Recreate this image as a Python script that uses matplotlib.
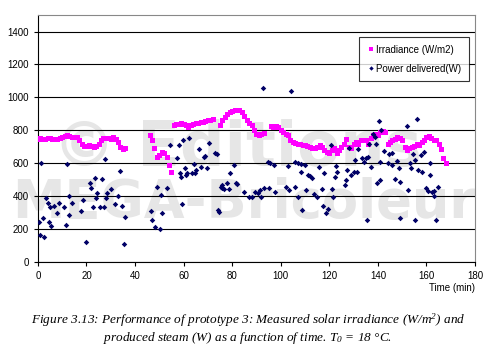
import matplotlib
matplotlib.use('Agg')
import matplotlib.pyplot as plt

plt.rcParams['font.family'] = ['Liberation Sans', 'DejaVu Sans']
plt.rcParams['mathtext.fontset'] = 'custom'
plt.rcParams['mathtext.rm'] = 'Liberation Serif:italic'
plt.rcParams['mathtext.it'] = 'Liberation Serif:italic'

# irradiance (W/m2) - magenta squares
t_irr = [0, 1, 2, 3, 4, 5, 6, 7, 8, 9, 10, 11, 12, 13, 14, 15, 16, 17, 18, 19,
         20, 21, 22, 23, 24, 25, 26, 27, 28, 29, 30, 31, 32, 33, 34, 35, 36,
         46, 47, 48, 49, 50, 51, 52, 53, 54, 55,
         56, 57, 58, 59, 60, 61, 62, 63, 64, 65, 66, 67, 68, 69, 70, 71, 72,
         75, 76, 77, 78, 79, 80, 81, 82, 83, 84, 85, 86, 87, 88, 89, 90, 91, 92, 93,
         96, 97, 98, 99, 100, 101, 102, 103, 104, 105, 106, 107, 108, 109, 110,
         111, 112, 113, 114, 115, 116, 117, 118, 119, 120, 121, 122, 123, 124, 125,
         126, 127, 128, 129, 130, 131, 132, 133, 134, 135, 136, 137, 138, 139, 140,
         141, 142, 143, 144, 145, 146, 147, 148, 149, 150, 151, 152, 153, 154, 155,
         156, 157, 158, 159, 160, 161, 162, 163, 164, 165, 166, 167, 168]
irradiance = [750, 752, 748, 750, 752, 754, 748, 745, 746, 755, 760, 765, 770, 765, 760, 760, 758, 740, 720, 704,
              706, 710, 705, 700, 705, 720, 740, 754, 754, 752, 750, 760, 745, 730, 700, 686, 690,
              770, 740, 690, 640, 650, 666, 660, 640, 590, 545,
              832, 836, 840, 842, 838, 830, 822, 830, 838, 842, 846, 850, 852, 856, 860, 864, 866,
              830, 860, 880, 900, 910, 918, 924, 924, 922, 910, 890, 860, 845, 830, 800, 780, 770, 780, 784,
              824, 820, 824, 820, 800, 790, 780, 770, 740, 730, 724, 720, 716, 712, 710,
              705, 700, 690, 690, 700, 710, 700, 680, 670, 660, 680, 690, 660, 680, 700,
              720, 750, 700, 690, 720, 730, 720, 740, 744, 740, 720, 756, 770, 780, 770,
              790, 796, 790, 720, 730, 744, 750, 760, 756, 740, 700, 680, 690, 700, 704,
              720, 710, 730, 744, 760, 764, 756, 744, 740, 720, 684, 630, 604]

# power delivered (W) - navy diamonds
t_pow = [0.4, 1, 1.4, 2, 2.7, 3.4, 4.1, 4.5, 5.1, 5.5, 6.5, 7.8, 8.7, 10.6, 11.4, 12.1, 12.6, 13, 14.1,
         17.9, 18.5, 19.6, 21.3, 22, 22.7, 23.6, 24, 24.5, 25.4, 26.4, 27.1, 27.6, 27.9, 28.4, 30,
         31.6, 33, 33.9, 34.6, 35.3, 35.7,
         46.7, 47.1, 48.4, 49.1, 50.1, 50.6, 51.2, 53.3, 54.3, 57.4, 58, 58.5, 58.8, 59.3, 59.8,
         60.4, 60.9, 61.4, 62.2, 63.6, 64.1, 64.7, 65.2, 66.3, 67.3, 68.3, 69, 69.5, 70.5, 73.1,
         73.9, 74.2, 74.5, 75.3, 75.6, 75.8, 76.5, 77.9, 78.7, 79, 80.8, 81.5, 82, 84.9, 86.8,
         88, 89.3, 90.7, 91.3, 92, 92.7, 93.3, 94.7, 95.6, 95.3, 97.3, 97.7, 102.3, 103.1, 103.3,
         104.3, 105.7, 105.7, 107, 107.3, 108.3, 108.4, 108.7, 110, 110.4, 111.3, 112, 112.7,
         113.6, 115, 115.6, 117, 117.3, 118, 118.7, 119.3, 120.7, 121, 121.7, 122.3, 122.7,
         123.1, 126.3, 126.7, 127.3, 128, 129, 130, 130.7, 131.3, 132, 133.3, 134.4, 135.3,
         135.6, 136, 136.4, 137.3, 138, 138.7, 139.3, 139.7, 140.4, 140.7, 140.9, 141.3, 142.7,
         144, 144.7, 145.6, 145.6, 147, 148, 148.7, 149.3, 149.3, 152, 152.4, 153.1, 153.7,
         154.4, 155.3, 155.3, 156, 156.7, 157.6, 158, 158.9, 160, 160.7, 161.3, 161.6, 162.3,
         163, 163.3, 164, 164.7]
power = [241, 167, 603, 267, 153, 388, 358, 241, 334, 217, 338, 297, 358, 334, 227, 595, 287, 402, 358,
         308, 378, 123, 482, 452, 334, 513, 392, 418, 334, 505, 334, 623, 392, 422, 442,
         354, 402, 555, 342, 107, 273,
         308, 257, 211, 458, 201, 408, 297, 452, 713, 629, 709, 543, 515, 352, 744,
         569, 529, 543, 756, 539, 595, 543, 559, 689, 579, 639, 645, 569, 724, 663,
         655, 318, 303, 458, 448, 468, 444, 478, 442, 539, 589, 482, 474, 428, 398,
         398, 428, 422, 438, 398, 1057, 448, 609, 603, 448, 589, 428, 454, 585, 438,
         1037, 605, 454, 603, 394, 593, 545, 318, 589, 438, 529, 523, 509,
         412, 398, 579, 444, 338, 539, 297, 322, 710, 444, 398, 519, 585,
         549, 468, 498, 559, 695, 529, 549, 619, 545, 689, 635, 609, 629,
         257, 639, 716, 575, 780, 760, 720, 482, 856, 605, 498, 800, 675,
         603, 659, 665, 589, 505, 615, 569, 488, 267, 826, 438, 603, 569,
         659, 619, 257, 870, 559, 649, 549, 669, 448, 434, 603, 529, 428,
         434, 402, 257, 458]

y_ticks = [0, 200, 400, 600, 800, 1000, 1200, 1400]
x_ticks = [0, 20, 40, 60, 80, 100, 120, 140, 160, 180]

fig = plt.figure(figsize=(4.99, 3.59), dpi=100)
ax = fig.add_axes([0.076, 0.270, 0.876, 0.688])

# watermark
ax.text(0.475, 0.585, '\u00a9 Editions', transform=fig.transFigure, ha='center', va='center',
        fontsize=45, fontweight='bold', family='DejaVu Sans', color='#e6e6e6', zorder=0.1)
ax.text(0.488, 0.435, 'MEGA-Bricoleur', transform=fig.transFigure, ha='center', va='center',
        fontsize=38, fontweight='bold', family='DejaVu Sans', color='#e6e6e6', zorder=0.1)

ax.plot(t_irr, irradiance, 's', color='#ff00ff', markersize=3.6, markeredgewidth=0,
        label='Irradiance (W/m2)', zorder=3)
ax.plot(t_pow, power, 'D', color='#000066', markersize=2.8, markeredgewidth=0,
        label='Power delivered(W)', zorder=4)

ax.set_xlim(0, 180)
ax.set_ylim(0, 1500)
ax.set_xticks(x_ticks)
ax.set_yticks(y_ticks)
ax.yaxis.grid(True, color='black', linewidth=0.8)
ax.set_axisbelow(True)
ax.patch.set_alpha(0)
ax.tick_params(labelsize=7, length=3, width=0.8, colors='black')
ax.spines['top'].set_color('#888888')
ax.spines['right'].set_color('#888888')

ax.text(1.0, -0.105, 'Time (min)', transform=ax.transAxes, ha='right', va='center', fontsize=7)

leg = ax.legend(loc='upper right', bbox_to_anchor=(0.998, 0.931), fontsize=7, frameon=True,
                fancybox=False, edgecolor='black', handletextpad=0.2, handlelength=0.8,
                borderpad=0.8, labelspacing=0.9, markerscale=0.8)
leg.get_frame().set_linewidth(0.8)

fig.text(0.497, 0.108, 'Figure 3.13: Performance of prototype 3: Measured solar irradiance (W/m$^2$) and',
         ha='center', va='center', fontsize=9.5, family='Liberation Serif', style='italic')
fig.text(0.497, 0.058, 'produced steam (W) as a function of time. $T_0$ = 18 \u00b0C.',
         ha='center', va='center', fontsize=9.5, family='Liberation Serif', style='italic')

fig.savefig('out.png', dpi=100)
